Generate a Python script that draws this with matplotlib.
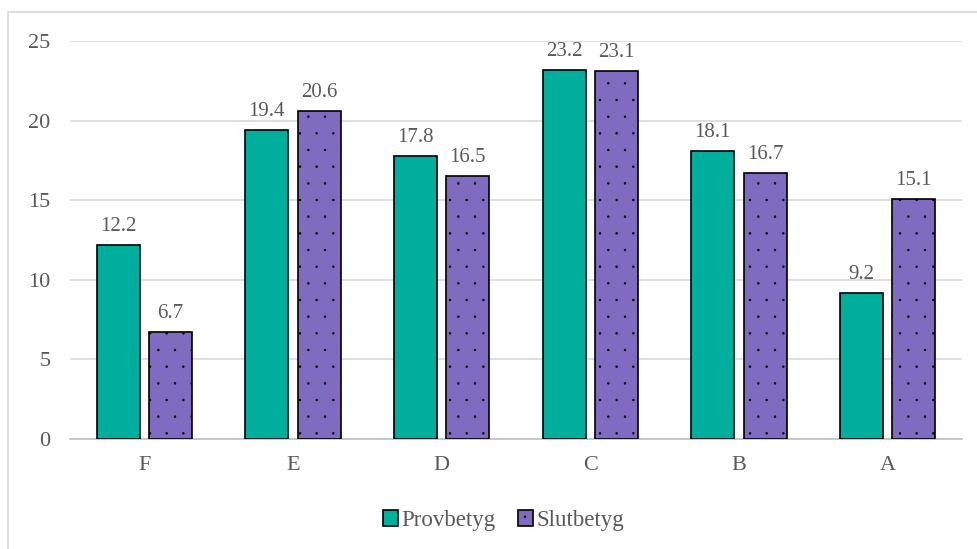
import matplotlib
matplotlib.use("Agg")
import matplotlib.pyplot as plt
import matplotlib.hatch as mhatch
import numpy as np
from matplotlib.patches import Rectangle

categories = ["F", "E", "D", "C", "B", "A"]
provbetyg = [12.2, 19.4, 17.8, 23.2, 18.1, 9.2]
slutbetyg = [6.7, 20.6, 16.5, 23.1, 16.7, 15.1]
series_names = ["Provbetyg", "Slutbetyg"]

plt.rcParams['font.family'] = ['Liberation Serif', 'DejaVu Serif']
plt.rcParams['hatch.color'] = 'black'
plt.rcParams['hatch.linewidth'] = 0.4
mhatch.SmallFilledCircles.size = 0.055

fig = plt.figure(figsize=(9.78, 5.49), dpi=100)
ax = fig.add_axes([0.0716, 0.2004, 0.912, 0.7249])

fig.patches.append(Rectangle((8/978, -0.01), 1.0, 1 - 12/549 + 0.01, transform=fig.transFigure,
                             fill=False, edgecolor='#D9D9D9', linewidth=1.2))

x = np.arange(len(categories))
w = 0.29
off = 0.176
tc = '#595959'
b1 = ax.bar(x - off, provbetyg, w, color='#00AE9E', edgecolor='black', linewidth=1.2,
            label=series_names[0], zorder=3)
b2 = ax.bar(x + off, slutbetyg, w, color='#7F6CC0', edgecolor='black', linewidth=1.2,
            hatch='.', label=series_names[1], zorder=3)

for bars, vals in ((b1, provbetyg), (b2, slutbetyg)):
    for r, v in zip(bars, vals):
        ax.annotate(f"{v:.1f}", (r.get_x() + r.get_width()/2, v), xytext=(0, 10),
                    textcoords='offset points', ha='center', va='baseline',
                    fontsize=15, color=tc)

ax.set_xlim(-0.5, len(categories) - 0.5)
ax.set_ylim(0, 25)
ax.set_yticks([0, 5, 10, 15, 20, 25])
ax.set_xticks(x)
ax.set_xticklabels(categories)
ax.tick_params(axis='both', length=0, labelsize=16, labelcolor=tc)
ax.tick_params(axis='y', pad=14)
ax.tick_params(axis='x', pad=12)
ax.grid(axis='y', color='#D9D9D9', linewidth=1.2, zorder=0)
for s in ['top', 'right', 'left']:
    ax.spines[s].set_visible(False)
ax.spines['bottom'].set_color('#BFBFBF')
ax.spines['bottom'].set_linewidth(1.2)

leg = fig.legend(handles=[b1, b2], labels=series_names, loc='center', bbox_to_anchor=(0.515, 0.052),
                 ncol=2, frameon=False, fontsize=16.5, handlelength=0.65, handleheight=0.65,
                 handletextpad=0.15, columnspacing=1.0, labelcolor=tc)

fig.savefig("out.png", dpi=100)
